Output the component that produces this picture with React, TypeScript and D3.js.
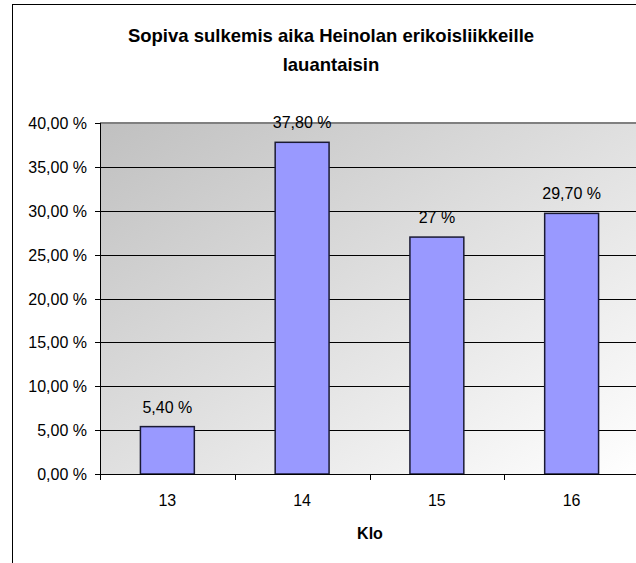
import React from "react";
import * as d3 from "d3";

const categories = ["13", "14", "15", "16"];
const values = [5.4, 37.8, 27, 29.7];
const valueLabels = ["5,40 %", "37,80 %", "27 %", "29,70 %"];
const yTicks = [0, 5, 10, 15, 20, 25, 30, 35, 40];
const titleLines = ["Sopiva sulkemis aika Heinolan erikoisliikkeille", "lauantaisin"];
const xTitle = "Klo";

const W = 636;
const H = 563;
const PLOT = { left: 100, right: 639, top: 123, bottom: 474 };
const FONT = "Arial, 'Liberation Sans', sans-serif";

const fmtTick = (v: number) => d3.format(".2f")(v).replace(".", ",") + " %";

export default function App() {
  const x = d3
    .scaleBand<string>()
    .domain(categories)
    .range([PLOT.left, PLOT.right])
    .padding(0);
  const y = d3.scaleLinear().domain([0, 40]).range([PLOT.bottom, PLOT.top]);
  const barW = x.bandwidth() * 0.4;

  // boundaries between categories, for the x tick marks
  const xBounds = categories.map((c) => x(c)!).concat([PLOT.right]);

  return (
    <svg
      width={W}
      height={H}
      style={{ position: "absolute", left: 0, top: 0, background: "#fff" }}
      fontFamily={FONT}
    >
      <defs>
        <linearGradient id="plotbg" x1="0" y1="0" x2="1" y2="1">
          <stop offset="0" stopColor="#c0c0c0" />
          <stop offset="1" stopColor="#ffffff" />
        </linearGradient>
      </defs>

      {/* chart frame, cut off at right and bottom */}
      <rect x={12.5} y={4.5} width={W + 20} height={H + 20} fill="#fff" stroke="#000" />

      {/* title */}
      <text textAnchor="middle" fontSize={18.5} fontWeight="bold" fill="#000">
        {titleLines.map((t, i) => (
          <tspan key={i} x={331} y={42 + i * 29}>
            {t}
          </tspan>
        ))}
      </text>

      {/* plot area */}
      <rect
        x={PLOT.left}
        y={PLOT.top}
        width={PLOT.right - PLOT.left}
        height={PLOT.bottom - PLOT.top}
        fill="url(#plotbg)"
      />

      {/* gridlines */}
      {yTicks
        .filter((t) => t > 0 && t < 40)
        .map((t) => (
          <line
            key={t}
            x1={PLOT.left}
            x2={PLOT.right}
            y1={Math.round(y(t)) + 0.5}
            y2={Math.round(y(t)) + 0.5}
            stroke="#000"
          />
        ))}
      <line
        x1={PLOT.left}
        x2={PLOT.right}
        y1={PLOT.top}
        y2={PLOT.top}
        stroke="#808080"
        strokeWidth={2}
      />

      {/* bars */}
      {values.map((v, i) => {
        const cx = x(categories[i])! + x.bandwidth() / 2;
        return (
          <g key={i}>
            <rect
              x={cx - barW / 2}
              y={y(v)}
              width={barW}
              height={y(0) - y(v)}
              fill="#9999ff"
              stroke="#1a1a33"
              strokeWidth={1.5}
            />
            <text x={cx} y={y(v) - 14} textAnchor="middle" fontSize={16} fill="#000">
              {valueLabels[i]}
            </text>
          </g>
        );
      })}

      {/* y axis */}
      <line x1={PLOT.left + 0.5} x2={PLOT.left + 0.5} y1={PLOT.top} y2={PLOT.bottom} stroke="#000" />
      {yTicks.map((t) => (
        <g key={t}>
          <line
            x1={PLOT.left - 5}
            x2={PLOT.left}
            y1={Math.round(y(t)) + 0.5}
            y2={Math.round(y(t)) + 0.5}
            stroke="#000"
          />
          <text x={87} y={y(t) + 6} textAnchor="end" fontSize={16} fill="#000">
            {fmtTick(t)}
          </text>
        </g>
      ))}

      {/* x axis */}
      <line x1={PLOT.left} x2={PLOT.right} y1={PLOT.bottom + 0.5} y2={PLOT.bottom + 0.5} stroke="#000" />
      {xBounds.map((b, i) => (
        <line
          key={i}
          x1={Math.round(b) + 0.5}
          x2={Math.round(b) + 0.5}
          y1={PLOT.bottom}
          y2={PLOT.bottom + 6}
          stroke="#000"
        />
      ))}
      {categories.map((c) => (
        <text
          key={c}
          x={x(c)! + x.bandwidth() / 2}
          y={506}
          textAnchor="middle"
          fontSize={16}
          fill="#000"
        >
          {c}
        </text>
      ))}
      <text x={370} y={539} textAnchor="middle" fontSize={16} fontWeight="bold" fill="#000">
        {xTitle}
      </text>
    </svg>
  );
}
